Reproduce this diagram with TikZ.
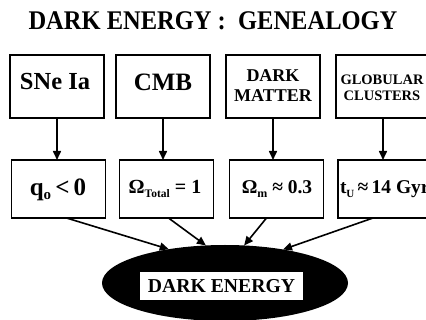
\documentclass[tikz,border=0pt]{standalone}
\usepackage{fontspec}
\setmainfont{Liberation Serif}
\usetikzlibrary{shapes.geometric,arrows.meta}
\newcommand{\fs}[1]{\fontsize{#1}{#1}\selectfont}
\tikzset{
  every node/.style={inner sep=0pt, outer sep=0pt},
  box/.style={draw, line width=1.3pt, minimum width=94pt, align=center},
  topbox/.style={box, minimum height=63pt},
  botbox/.style={box, minimum height=58pt},
  arr/.style={line width=1.6pt, -{Triangle[length=9pt,width=8pt]}},
  txt/.style={align=center, font=\bfseries\fs{#1}},
}
\begin{document}
\begin{tikzpicture}[x=1pt,y=-1pt]
\useasboundingbox (0,0) rectangle (426,320);
\node[txt=24.5] (title) at (213,21) {\scalebox{1}[1.1]{DARK ENERGY :\ \ GENEALOGY}};
% top row
\node[topbox] (t1) at (57,86.5) {};
\node[topbox] (t2) at (163,86.5) {};
\node[topbox] (t3) at (273,86.5) {};
\node[topbox] (t4) at (383,86.5) {};
\node[txt=24.5] (l1) at (55,82) {SNe Ia};
\node[txt=25] (l2) at (163,82) {CMB};
\node[txt=18] (l3) at (273,86) {DARK\\[2pt] MATTER};
\node[txt=14.5] (l4) at (382,88) {GLOBULAR\\[1pt] CLUSTERS};
% bottom row
\node[botbox] (b1) at (58.5,189) {};
\node[botbox] (b2) at (166.5,189) {};
\node[botbox] (b3) at (276.5,189) {};
\node[botbox] (b4) at (385,189) {};
\node[txt=25] (m1) at (58,190) {q\raisebox{-4pt}{\fs{15}o}\,<\,0};
\node[txt=20] (m2) at (165,189) {Ω\raisebox{-4.5pt}{\fs{11.5}Total}\ =\ 1};
\node[txt=19.5] (m3) at (277,189) {Ω\raisebox{-4pt}{\fs{12}m}\ ≈\ 0.3};
\node[txt=19.5, anchor=west] (m4) at (340,189) {t\raisebox{-4pt}{\fs{11}U}\,≈\,14 Gyr};
% ellipse
\node[ellipse, fill=black, minimum width=246pt, minimum height=76pt] (de) at (225,283) {};
\node[txt=19.7, fill=white, minimum width=163pt, minimum height=28pt] (del) at (221.5,286) {DARK ENERGY};
% vertical arrows
\draw[arr] (t1.south) -- (t1.south |- b1.north);
\draw[arr] (t2.south) -- (t2.south |- b2.north);
\draw[arr] (t3.south) -- (t3.south |- b3.north);
\draw[arr] (t4.south) -- (t4.south |- b4.north);
% diagonal arrows
\draw[arr] ([xshift=8pt]b1.south) -- (de.149);
\draw[arr] ([xshift=2pt]b2.south) -- (de.117);
\draw[arr] ([xshift=-10pt]b3.south) -- (de.63);
\draw[arr] ([xshift=-12pt]b4.south) -- (de.30);
\end{tikzpicture}
\end{document}
